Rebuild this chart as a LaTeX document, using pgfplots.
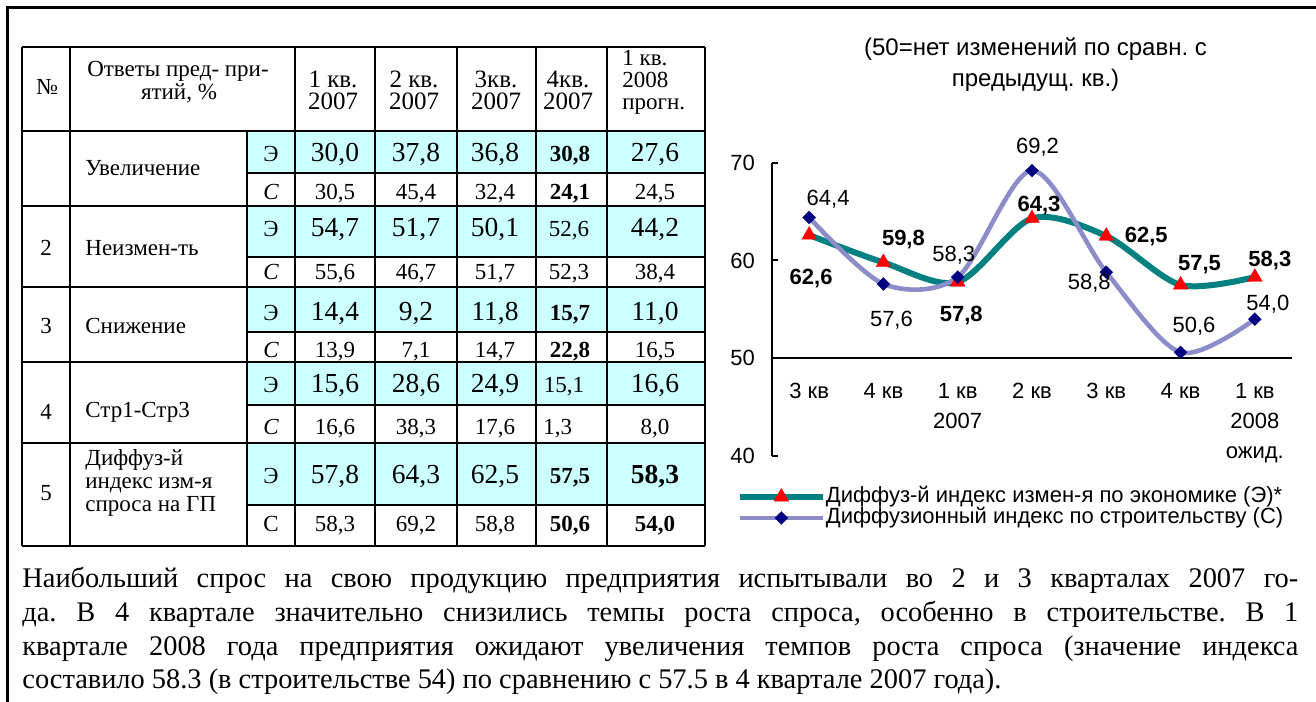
\documentclass[border=0pt]{standalone}
\usepackage{fontspec}
\setmainfont{Liberation Serif}
\newfontfamily\arial{Liberation Sans}
\usepackage{pgfplots}
\pgfplotsset{compat=1.18}
\usepackage{pgfplotstable}
\frenchspacing

\definecolor{tealE}{RGB}{0,128,128}
\definecolor{lavC}{RGB}{140,140,200}
\definecolor{navyC}{RGB}{0,0,128}
\definecolor{cyanfill}{RGB}{204,255,255}

\newcommand{\fbig}{\fontsize{13.75pt}{16pt}\selectfont}
\newcommand{\fsm}{\fontsize{11.5pt}{13pt}\selectfont}
\newcommand{\fhd}{\fontsize{12.5pt}{14pt}\selectfont}
\newcommand{\fch}{\arial\fontsize{11pt}{13pt}\selectfont}
\newcommand{\fti}{\arial\fontsize{12pt}{14pt}\selectfont}
\newcommand{\ftx}{\fontsize{14.2pt}{17pt}\selectfont}

% Economy index (E)
\pgfplotstableread{
x y lab dx dy
0 62.6 62,6 1 -21.5
1 59.8 59,8 10 11.25
2 57.8 57,8 1.75 -17
3 64.3 64,3 3.5 6.7
4 62.5 62,5 20 0
5 57.5 57,5 9.5 10
6 58.3 58,3 7.5 8.5
}\dataE
% Construction index (C)
\pgfplotstableread{
x y lab dx dy
0 64.4 64,4 9.5 9.25
1 57.6 57,6 4 -18.25
2 58.3 58,3 -2 10.85
3 69.2 69,2 2.75 11.65
4 58.8 58,8 -8.5 -5.35
5 50.6 50,6 6.7 13.25
6 54.0 54,0 6.5 7.5
}\dataC

\begin{document}
\begin{tikzpicture}
\useasboundingbox (0,0) rectangle (658pt,-350.5pt);
\clip (0,0) rectangle (658pt,-350.5pt);
\begin{scope}[x=0.5pt,y=-0.5pt]
% outer frame
\draw[line width=1.5pt] (7,720) -- (7,8) -- (1330,8);
% cyan fills
\foreach \a/\b in {131/173,206/257,287/332,362/405,443/505}
  \fill[cyanfill] (247,\a) rectangle (705,\b);
% grid
\begin{scope}[line width=1pt]
\foreach \yy in {47,131,206,287,362,443,546} \draw (22,\yy) -- (705,\yy);
\foreach \yy in {173,257,332,405,505} \draw (247,\yy) -- (705,\yy);
\foreach \xx in {22,70,295,375,457,536,607,705} \draw (\xx,47) -- (\xx,546);
\draw (247,131) -- (247,546);
\end{scope}
% header
\node[anchor=base,inner sep=0pt,font=\fsm] at (47,95) {№};
\node[anchor=base,inner sep=0pt,font=\fsm] at (178,76) {Ответы пред- при-};
\node[anchor=base,inner sep=0pt,font=\fsm] at (179,99) {ятий, \%};
\foreach \cx/\t in {333/1 кв.,414/2 кв.,496/3кв.,568/4кв.}{
  \node[anchor=base,inner sep=0pt,font=\fhd] at (\cx,88) {\t};
  \node[anchor=base,inner sep=0pt,font=\fhd] at (\cx,110) {2007};
}
\node[anchor=base west,inner sep=0pt,font=\fsm] at (622,66) {1 кв.};
\node[anchor=base west,inner sep=0pt,font=\fsm] at (622,88) {2008};
\node[anchor=base west,inner sep=0pt,font=\fsm] at (622,110) {прогн.};
% row labels
\node[anchor=base west,inner sep=0pt,font=\fsm] at (85,175) {Увеличение};
\node[anchor=base,inner sep=0pt,font=\fsm] at (46,255) {2};
\node[anchor=base west,inner sep=0pt,font=\fsm] at (85,255) {Неизмен-ть};
\node[anchor=base,inner sep=0pt,font=\fsm] at (46,333) {3};
\node[anchor=base west,inner sep=0pt,font=\fsm] at (85,333) {Снижение};
\node[anchor=base,inner sep=0pt,font=\fsm] at (46,419) {4};
\node[anchor=base west,inner sep=0pt,font=\fsm] at (85,417) {Стр1-Стр3};
\node[anchor=base,inner sep=0pt,font=\fsm] at (46,500) {5};
\node[anchor=base west,inner sep=0pt,font=\fsm] at (85,465) {Диффуз-й};
\node[anchor=base west,inner sep=0pt,font=\fsm] at (85,488) {индекс изм-я};
\node[anchor=base west,inner sep=0pt,font=\fsm] at (85,511) {спроса на ГП};
% E / C letters
\foreach \yy in {162,236,320,392,483}
  \node[anchor=base,inner sep=0pt,font=\fsm] at (271,\yy) {Э};
\foreach \yy in {199,279,357,434}
  \node[anchor=base,inner sep=0pt,font=\fsm\itshape] at (271,\yy) {C};
\node[anchor=base,inner sep=0pt,font=\fsm] at (271,531) {С};
% numbers row 1
\node[anchor=base,inner sep=0pt,font=\fbig] at (335,162) {30,0};
\node[anchor=base,inner sep=0pt,font=\fbig] at (416,162) {37,8};
\node[anchor=base,inner sep=0pt,font=\fbig] at (495,162) {36,8};
\node[anchor=base,inner sep=0pt,font=\fsm\bfseries] at (570,162) {30,8};
\node[anchor=base,inner sep=0pt,font=\fbig] at (655,162) {27,6};
\node[anchor=base,inner sep=0pt,font=\fsm] at (335,199) {30,5};
\node[anchor=base,inner sep=0pt,font=\fsm] at (416,199) {45,4};
\node[anchor=base,inner sep=0pt,font=\fsm] at (495,199) {32,4};
\node[anchor=base,inner sep=0pt,font=\fsm\bfseries] at (570,199) {24,1};
\node[anchor=base,inner sep=0pt,font=\fsm] at (655,199) {24,5};
% row 2
\node[anchor=base,inner sep=0pt,font=\fbig] at (335,236) {54,7};
\node[anchor=base,inner sep=0pt,font=\fbig] at (416,236) {51,7};
\node[anchor=base,inner sep=0pt,font=\fbig] at (495,236) {50,1};
\node[anchor=base,inner sep=0pt,font=\fsm] at (569,236) {52,6};
\node[anchor=base,inner sep=0pt,font=\fbig] at (655,236) {44,2};
\node[anchor=base,inner sep=0pt,font=\fsm] at (335,279) {55,6};
\node[anchor=base,inner sep=0pt,font=\fsm] at (416,279) {46,7};
\node[anchor=base,inner sep=0pt,font=\fsm] at (495,279) {51,7};
\node[anchor=base,inner sep=0pt,font=\fsm] at (569,279) {52,3};
\node[anchor=base,inner sep=0pt,font=\fsm] at (655,279) {38,4};
% row 3
\node[anchor=base,inner sep=0pt,font=\fbig] at (335,320) {14,4};
\node[anchor=base,inner sep=0pt,font=\fbig] at (416,320) {9,2};
\node[anchor=base,inner sep=0pt,font=\fbig] at (495,320) {11,8};
\node[anchor=base,inner sep=0pt,font=\fsm\bfseries] at (570,320) {15,7};
\node[anchor=base,inner sep=0pt,font=\fbig] at (655,320) {11,0};
\node[anchor=base,inner sep=0pt,font=\fsm] at (335,357) {13,9};
\node[anchor=base,inner sep=0pt,font=\fsm] at (416,357) {7,1};
\node[anchor=base,inner sep=0pt,font=\fsm] at (495,357) {14,7};
\node[anchor=base,inner sep=0pt,font=\fsm\bfseries] at (570,357) {22,8};
\node[anchor=base,inner sep=0pt,font=\fsm] at (655,357) {16,5};
% row 4
\node[anchor=base,inner sep=0pt,font=\fbig] at (335,392) {15,6};
\node[anchor=base,inner sep=0pt,font=\fbig] at (416,392) {28,6};
\node[anchor=base,inner sep=0pt,font=\fbig] at (495,392) {24,9};
\node[anchor=base,inner sep=0pt,font=\fsm] at (564,392) {15,1};
\node[anchor=base,inner sep=0pt,font=\fbig] at (655,392) {16,6};
\node[anchor=base,inner sep=0pt,font=\fsm] at (335,434) {16,6};
\node[anchor=base,inner sep=0pt,font=\fsm] at (416,434) {38,3};
\node[anchor=base,inner sep=0pt,font=\fsm] at (495,434) {17,6};
\node[anchor=base west,inner sep=0pt,font=\fsm] at (543,434) {1,3};
\node[anchor=base,inner sep=0pt,font=\fsm] at (655,434) {8,0};
% row 5
\node[anchor=base,inner sep=0pt,font=\fbig] at (335,483) {57,8};
\node[anchor=base,inner sep=0pt,font=\fbig] at (416,483) {64,3};
\node[anchor=base,inner sep=0pt,font=\fbig] at (495,483) {62,5};
\node[anchor=base,inner sep=0pt,font=\fsm\bfseries] at (570,483) {57,5};
\node[anchor=base,inner sep=0pt,font=\fbig\bfseries] at (655,483) {58,3};
\node[anchor=base,inner sep=0pt,font=\fsm] at (335,531) {58,3};
\node[anchor=base,inner sep=0pt,font=\fsm] at (416,531) {69,2};
\node[anchor=base,inner sep=0pt,font=\fsm] at (495,531) {58,8};
\node[anchor=base,inner sep=0pt,font=\fsm\bfseries] at (570,531) {50,6};
\node[anchor=base,inner sep=0pt,font=\fsm\bfseries] at (655,531) {54,0};
% chart title
\node[anchor=base,inner sep=0pt,font=\fti] at (1035.5,56) {(50=нет изменений по сравн. с};
\node[anchor=base,inner sep=0pt,font=\fti] at (1035.5,86.5) {предыдущ. кв.)};
% body text
\node[anchor=base west,inner sep=0pt,font=\ftx] at (22,587) {\makebox[638pt][s]{Наибольший спрос на свою продукцию предприятия испытывали во 2 и 3 кварталах 2007 го-}};
\node[anchor=base west,inner sep=0pt,font=\ftx] at (22,621) {\makebox[638pt][s]{да. В 4 квартале значительно снизились темпы роста спроса, особенно в строительстве. В 1}};
\node[anchor=base west,inner sep=0pt,font=\ftx] at (22,655) {\makebox[638pt][s]{квартале 2008 года предприятия ожидают увеличения темпов роста спроса (значение индекса}};
\node[anchor=base west,inner sep=0pt,font=\ftx] at (22,688) {составило 58.3 (в строительстве 54) по сравнению с 57.5 в 4 квартале 2007 года).};
\end{scope}

\begin{axis}[
  at={(386pt,-228pt)}, anchor=south west,
  scale only axis, width=260pt, height=146.65pt,
  xmin=-0.5, xmax=6.5, ymin=40, ymax=70,
  clip=false,
  axis x line=none,
  axis y line*=left,
  axis line style={line width=1pt, black},
  xtick=\empty,
  ytick={40,50,60,70},
  ytick pos=left, tick align=inside, major tick length=3pt,
  y tick style={line width=1pt, black},
  /pgf/number format/assume math mode=true,
  yticklabel style={font=\fch, xshift=-5pt},
  legend style={at={(-0.0676,-0.1037)}, anchor=north west, draw=none, fill=none,
    inner sep=0pt, outer sep=0pt, row sep=0pt, column sep=0pt,
    font=\fch, nodes={inner sep=0pt, text height=8pt, text depth=2.5pt}},
  legend cell align=left,
  legend image code/.code={\draw[mark repeat=2, mark phase=2, #1] plot coordinates {(0pt,0pt) (20.75pt,0pt) (41.5pt,0pt)};},
]
\addplot[color=tealE, line width=3pt, smooth, tension=0.5,
  mark=triangle*, mark size=4.3pt,
  mark options={draw=red, fill=red, line width=0.1pt, solid}]
  table[x=x, y=y] {\dataE};
\addlegendentry{Диффуз-й индекс измен-я по экономике (Э)*}
\addplot[color=lavC, line width=2.3pt, smooth, tension=0.5,
  mark=square*, mark size=2.3pt,
  mark options={draw=navyC, fill=navyC, rotate=45, line width=0.1pt, solid}]
  table[x=x, y=y] {\dataC};
\addlegendentry{Диффузионный индекс по строительству (С)}
% data labels
\addplot[draw=none, mark=none, forget plot,
  nodes near coords, point meta=explicit symbolic,
  nodes near coords align=center,
  visualization depends on={\thisrow{dx} \as \ldx},
  visualization depends on={\thisrow{dy} \as \ldy},
  every node near coord/.append style={anchor=center, xshift=\ldx pt, yshift=\ldy pt,
    font=\fch\bfseries, text=black, inner sep=0pt}]
  table[x=x, y=y, meta=lab] {\dataE};
\addplot[draw=none, mark=none, forget plot,
  nodes near coords, point meta=explicit symbolic,
  nodes near coords align=center,
  visualization depends on={\thisrow{dx} \as \ldx},
  visualization depends on={\thisrow{dy} \as \ldy},
  every node near coord/.append style={anchor=center, xshift=\ldx pt, yshift=\ldy pt,
    font=\fch, text=black, inner sep=0pt}]
  table[x=x, y=y, meta=lab] {\dataC};
% x axis line at 50 with crossing ticks
\draw[line width=1pt] (axis cs:-0.5,50) -- (axis cs:6.5,50);
\draw[line width=1pt] (axis cs:0.5,50) ++(0,3.5pt) -- ++(0,-7pt);
\draw[line width=1pt] (axis cs:1.5,50) ++(0,3.5pt) -- ++(0,-7pt);
\draw[line width=1pt] (axis cs:2.5,50) ++(0,3.5pt) -- ++(0,-7pt);
\draw[line width=1pt] (axis cs:3.5,50) ++(0,3.5pt) -- ++(0,-7pt);
\draw[line width=1pt] (axis cs:4.5,50) ++(0,3.5pt) -- ++(0,-7pt);
\draw[line width=1pt] (axis cs:5.5,50) ++(0,3.5pt) -- ++(0,-7pt);
\draw[line width=1pt] (axis cs:6.5,50) ++(0,3.5pt) -- ++(0,-7pt);
% category labels
\node[anchor=base, font=\fch, yshift=-20.35pt] at (axis cs:0,50) {3 кв};
\node[anchor=base, font=\fch, yshift=-20.35pt] at (axis cs:1,50) {4 кв};
\node[anchor=base, font=\fch, yshift=-20.35pt] at (axis cs:2,50) {1 кв};
\node[anchor=base, font=\fch, yshift=-35.35pt] at (axis cs:2,50) {2007};
\node[anchor=base, font=\fch, yshift=-20.35pt] at (axis cs:3,50) {2 кв};
\node[anchor=base, font=\fch, yshift=-20.35pt] at (axis cs:4,50) {3 кв};
\node[anchor=base, font=\fch, yshift=-20.35pt] at (axis cs:5,50) {4 кв};
\node[anchor=base, font=\fch, yshift=-20.35pt] at (axis cs:6,50) {1 кв};
\node[anchor=base, font=\fch, yshift=-35.35pt] at (axis cs:6,50) {2008};
\node[anchor=base, font=\fch, yshift=-50.35pt] at (axis cs:6,50) {ожид.};
\end{axis}
\end{tikzpicture}
\end{document}
